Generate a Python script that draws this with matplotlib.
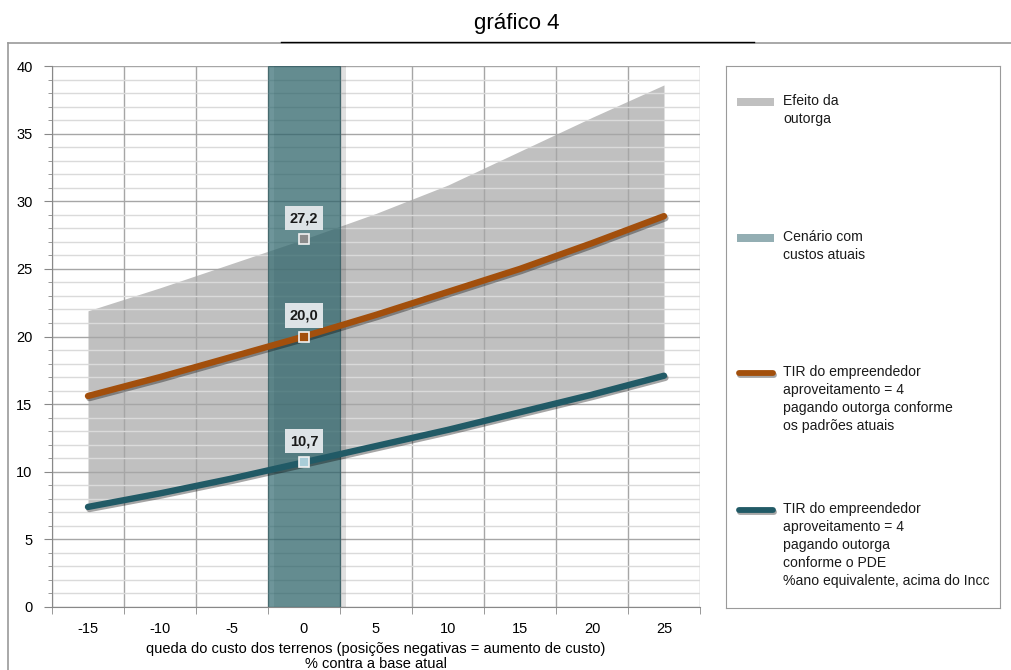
import matplotlib
matplotlib.use("Agg")
import matplotlib.pyplot as plt
import matplotlib.patheffects as pe
from matplotlib.patches import Rectangle
from matplotlib.lines import Line2D
import numpy as np

plt.rcParams['font.family'] = ['Liberation Sans', 'DejaVu Sans']

# ---- data ----
categories = [-15, -10, -5, 0, 5, 10, 15, 20, 25]
band_upper = [21.9, 23.6, 25.4, 27.2, 29.1, 31.2, 33.7, 36.2, 38.6]
tir_atual = [15.6, 17.0, 18.5, 20.0, 21.6, 23.3, 25.0, 26.9, 28.9]
tir_pde = [7.4, 8.4, 9.5, 10.7, 11.9, 13.1, 14.4, 15.7, 17.1]
cenario_cat = 0
cenario_top = 40
labels_vals = [27.2, 20.0, 10.7]
labels_txt = ["27,2", "20,0", "10,7"]

title = "gráfico 4"
xlabel = "queda do custo dos terrenos (posições negativas = aumento de custo)\n% contra a base atual"
legend_labels = [
    "Efeito da\noutorga",
    "Cenário com\ncustos atuais",
    "TIR do empreendedor\naproveitamento = 4\npagando outorga conforme\nos padrões atuais",
    "TIR do empreendedor\naproveitamento = 4\npagando outorga\nconforme o PDE\n%ano equivalente, acima do Incc",
]

C_BAND = "#c0c0c0"
C_BAR = "#30696f"
C_ORANGE = "#a24f0c"
C_TEAL = "#215a66"
C_MAJ = "#a6a6a6"
C_MIN = "#dadada"

W, H = 1012, 670
fig = plt.figure(figsize=(W / 100, H / 100), dpi=100)

def fx(px):
    return px / W

def fy(py):
    return 1 - py / H

# outer chart border (extends beyond image right/bottom)
fig.add_artist(Line2D([fx(8), fx(1020)], [fy(43), fy(43)], color="#9a9a9a", lw=1.2))
fig.add_artist(Line2D([fx(8), fx(8)], [fy(43), fy(680)], color="#9a9a9a", lw=1.2))

# title with underline
fig.text(fx(517), fy(23), title, ha="center", va="center", fontsize=16)
fig.add_artist(Line2D([fx(281), fx(754)], [fy(42), fy(42)], color="black", lw=1.0))

ax = fig.add_axes([fx(52), fy(607), fx(700) - fx(52), fy(66) - fy(607)])
idx = np.arange(len(categories))
ax.set_xlim(-0.5, len(categories) - 0.5)
ax.set_ylim(0, 40)

# gridlines
ax.set_axisbelow('line')
ax.set_yticks(np.arange(0, 41, 5))
ax.set_yticks(np.arange(0, 41, 1), minor=True)
ax.set_xticks(idx)
ax.set_xticklabels([str(c) for c in categories])
ax.set_xticks(np.arange(-0.5, len(categories), 1), minor=True)
ax.grid(which="major", axis="y", color=C_MAJ, lw=1.0)
ax.grid(which="minor", axis="y", color=C_MIN, lw=1.0)
ax.grid(which="minor", axis="x", color=C_MAJ, lw=1.0)
ax.grid(which="major", axis="x", visible=False)
ax.tick_params(axis="x", which="major", length=0, pad=11, labelsize=10.5)
ax.tick_params(axis="x", which="minor", length=5, color="#888888", direction="out")
ax.tick_params(axis="y", which="major", length=6, color="#888888", labelsize=10.5, pad=8)
ax.tick_params(axis="y", which="minor", length=3, color="#888888")
for s in ["top", "right"]:
    ax.spines[s].set_visible(False)
for s in ["left", "bottom"]:
    ax.spines[s].set_color("#888888")

# band: efeito da outorga
ax.fill_between(idx, tir_pde, band_upper, color=C_BAND, lw=0, zorder=1)

# cenário bar
ci = categories.index(cenario_cat)
ax.bar([ci], [cenario_top], width=1.0, color=C_BAR, alpha=0.7, edgecolor="#2f5a60",
       lw=0.8, zorder=1.7,
       path_effects=[pe.SimplePatchShadow(offset=(4, 0), shadow_rgbFace="#000000", alpha=0.12),
                     pe.Normal()])

shadow = [pe.SimpleLineShadow(offset=(1, -1.5), shadow_color="#000000", alpha=0.35), pe.Normal()]
ax.plot(idx, tir_atual, color=C_ORANGE, lw=4.6, solid_capstyle="round", zorder=3, path_effects=shadow)
ax.plot(idx, tir_pde, color=C_TEAL, lw=4.6, solid_capstyle="round", zorder=3, path_effects=shadow)

# markers and labels
marker_faces = ["#8c8c8c", C_ORANGE, "#a9cdd8"]
for v, t, fc in zip(labels_vals, labels_txt, marker_faces):
    ax.plot([ci], [v], marker="s", ms=7, mfc=fc, mec="#f2f2f2", mew=1.2, zorder=5, ls="none")
    ax.annotate(t, (ci, v), xytext=(0, 21), textcoords="offset pixels",
                ha="center", va="center", fontsize=10.5, fontweight="bold", color="#1a1a1a",
                bbox=dict(boxstyle="square,pad=0.35", fc="#dde3e6", ec="none"), zorder=6)

ax.set_xlabel(xlabel, fontsize=10.5, labelpad=4, linespacing=1.1)

# legend (manual)
lax = fig.add_axes([fx(726), fy(608), fx(1000) - fx(726), fy(66) - fy(608)])
lax.set_xlim(726, 1000)
lax.set_ylim(608, 66)
lax.set_xticks([])
lax.set_yticks([])
for s in lax.spines.values():
    s.set_color("#9a9a9a")
entry_y = [102, 238, 373, 510]
handles = [("patch", C_BAND), ("patch", "#93aeb3"), ("line", C_ORANGE), ("line", C_TEAL)]
for (kind, col), yy, lab in zip(handles, entry_y, legend_labels):
    if kind == "patch":
        lax.add_patch(Rectangle((737, yy - 4), 37, 8, color=col, lw=0))
    else:
        lax.plot([739, 773], [yy, yy], color=col, lw=4.2, solid_capstyle="round",
                 path_effects=shadow)
    lax.text(783, yy - 8, lab, ha="left", va="top", fontsize=10.1, linespacing=1.37, color="#1a1a1a")

fig.savefig("out.png", dpi=100)
